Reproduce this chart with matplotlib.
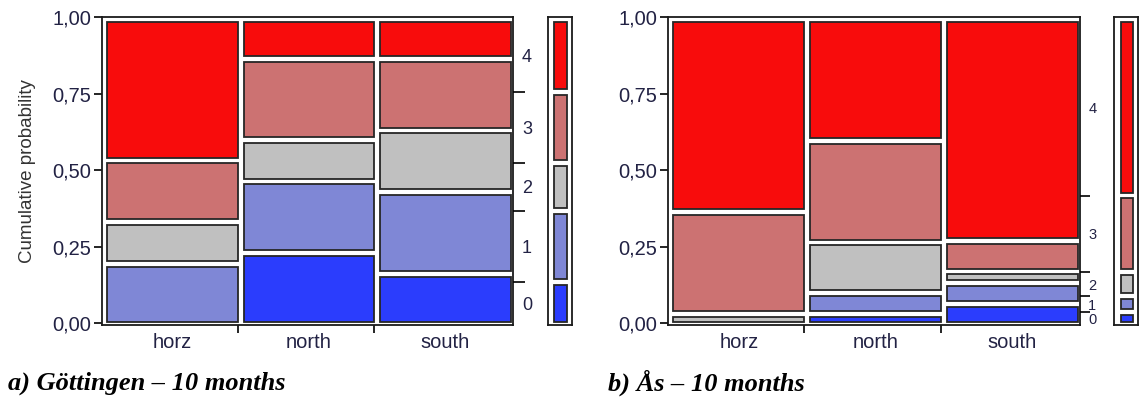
import matplotlib.pyplot as plt
from matplotlib.patches import Rectangle

# categories on the x axis and the response levels 0..4
sites = ["horz", "north", "south"]
levels = ["0", "1", "2", "3", "4"]
colors = ["#2b3dfd", "#7f87d6", "#c0c0c0", "#cc7272", "#f80c0c"]

# proportion of each level within each site
gott_horz = [0.000, 0.195, 0.127, 0.197, 0.481]
gott_north = [0.238, 0.237, 0.128, 0.274, 0.123]
gott_south = [0.163, 0.275, 0.200, 0.239, 0.123]

aas_horz = [0.000, 0.000, 0.017, 0.333, 0.650]
aas_north = [0.018, 0.054, 0.162, 0.347, 0.419]
aas_south = [0.054, 0.056, 0.020, 0.089, 0.781]

captions = ["a) Göttingen – 10 months", "b) Ås – 10 months"]

W, H = 1145, 398
EDGE = "#262626"
BASE, TOP, GAP = 0.0052, 0.9856, 0.0186
XL, XR, XGAP = 0.013, 0.994, 0.0139

plt.rcParams["font.family"] = ["Liberation Sans", "DejaVu Sans"]


def px_axes(fig, left, right, top, bottom):
    return fig.add_axes([left / W, 1 - bottom / H, (right - left) / W, (bottom - top) / H])


def stack(ax, x0, x1, props):
    nz = [p for p in props if p > 0]
    avail = TOP - BASE - GAP * (len(nz) - 1)
    y = BASE
    spans = []
    for p, c in zip(props, colors):
        h = p * avail
        if p > 0:
            ax.add_patch(Rectangle((x0, y), x1 - x0, h, facecolor=c,
                                   edgecolor=EDGE, linewidth=1.3))
            spans.append((y, h))
            y += h + GAP
        else:
            spans.append((y - GAP / 2, 0))
    return spans


def style_frame(ax):
    ax.set_ylim(-0.0056, 1.002)
    ax.set_xlim(0, 1)
    for s in ax.spines.values():
        s.set_linewidth(1.3)
        s.set_color("#1a1a1a")


def panel(fig, cols, left, right, leg_left, leg_right, caption, cap_x,
          ylabel, lab_size, tick_len, lab_pad):
    ax = px_axes(fig, left, right, 16.7, 325)
    style_frame(ax)
    cw = (XR - XL - 2 * XGAP) / 3
    centers, bounds = [], []
    for i, props in enumerate(cols):
        x0 = XL + i * (cw + XGAP)
        stack(ax, x0, x0 + cw, props)
        centers.append(x0 + cw / 2)
        if i < 2:
            bounds.append(x0 + cw)

    ax.set_yticks([0, 0.25, 0.5, 0.75, 1.0], ["0,00", "0,25", "0,50", "0,75", "1,00"])
    ax.tick_params(axis="y", length=6, width=1.2, pad=1.5, labelsize=14.5,
                   labelcolor="#222244")
    ax.set_xticks(centers, sites)
    ax.set_xticks(bounds, minor=True)
    ax.tick_params(axis="x", which="major", length=0, pad=6, labelsize=14.5,
                   labelcolor="#222244")
    ax.tick_params(axis="x", which="minor", length=6, width=1.2)
    if ylabel:
        ax.set_ylabel(ylabel, fontsize=13.5, color="#333333", labelpad=12)

    # marginal distribution bar
    marg = [(a + b + c) / 3 for a, b, c in zip(*cols)]
    lg = px_axes(fig, leg_left, leg_right, 16.7, 325)
    style_frame(lg)
    spans = stack(lg, 0.28, 0.79, marg)
    lg.set_xticks([])
    lg.set_yticks([])

    mids = [y + h / 2 for y, h in spans]
    cuts = [(spans[i][0] + spans[i][1] + spans[i + 1][0]) / 2 for i in range(4)]
    ax2 = ax.twinx()
    ax2.set_ylim(ax.get_ylim())
    ax2.set_yticks(mids, levels)
    ax2.set_yticks(cuts, minor=True)
    ax2.tick_params(axis="y", which="major", length=0, pad=lab_pad,
                    labelsize=lab_size, labelcolor="#222244")
    ax2.tick_params(axis="y", which="minor", length=tick_len, width=1.2)
    for s in ax2.spines.values():
        s.set_visible(False)

    fig.text(cap_x / W, 1 - 383 / H, caption, family="Liberation Serif",
             weight="bold", style="italic", fontsize=19, va="center", ha="left")


fig = plt.figure(figsize=(W / 100, H / 100), dpi=100)
panel(fig, [gott_horz, gott_north, gott_south], 102, 513, 547.7, 571.7,
      captions[0], 8, "Cumulative probability", 13, 8.5, 6.5)
panel(fig, [aas_horz, aas_north, aas_south], 668, 1080, 1114, 1138,
      captions[1], 608, None, 10.5, 7, 6)

fig.savefig("out.png", dpi=100)
